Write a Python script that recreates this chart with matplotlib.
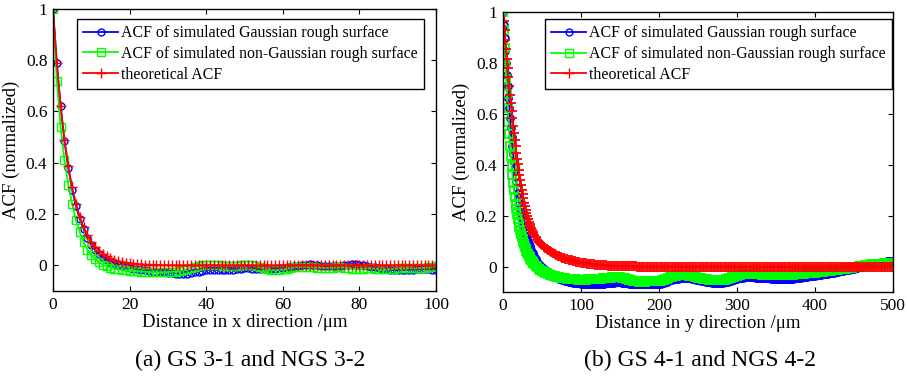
import numpy as np
import matplotlib
matplotlib.use("Agg")
import matplotlib.pyplot as plt
from matplotlib.ticker import FormatStrFormatter

plt.rcParams['font.family'] = ['Liberation Serif', 'DejaVu Serif']

labels = ['ACF of simulated Gaussian rough surface',
          'ACF of simulated non-Gaussian rough surface',
          'theoretical ACF']
captions = ['(a) GS 3-1 and NGS 3-2', '(b) GS 4-1 and NGS 4-2']
xlabels = ['Distance in x direction /\u03bcm', 'Distance in y direction /\u03bcm']

# (a) x direction, sampled every 1 um
x_a = np.arange(0, 101, 1)
gauss_a = [1.000, .790, .620, .485, .380, .295, .230, .180, .140, .105,
           .080, .060, .045, .032, .022, .014, .008, .003, -.002, -.006,
           -.010, -.013, -.016, -.018, -.020, -.022, -.024, -.025, -.026, -.027,
           -.028, -.030, -.032, -.033, -.033, -.032, -.030, -.027, -.024, -.021,
           -.019, -.018, -.018, -.019, -.020, -.020, -.019, -.017, -.015, -.013,
           -.012, -.012, -.013, -.014, -.015, -.016, -.016, -.015, -.013, -.011,
           -.009, -.007, -.005, -.003, -.001, .001, .003, .004, .003, .001,
           -.001, -.003, -.004, -.004, -.003, -.001, .001, .003, .004, .004,
           .003, .001, -.002, -.005, -.008, -.011, -.014, -.016, -.018, -.019,
           -.020, -.020, -.019, -.018, -.017, -.016, -.015, -.015, -.016, -.017,
           -.018]
nongauss_a = [1.000, .720, .540, .410, .315, .240, .175, .130, .090, .060,
              .040, .025, .012, .003, -.004, -.009, -.013, -.016, -.018, -.020,
              -.021, -.022, -.023, -.024, -.025, -.026, -.026, -.027, -.027, -.027,
              -.026, -.025, -.024, -.022, -.019, -.015, -.010, -.005, -.001, .002,
              .003, .003, .002, .000, -.002, -.003, -.003, -.002, -.001, .000,
              .001, .001, .000, -.003, -.007, -.011, -.015, -.018, -.019, -.018,
              -.016, -.013, -.010, -.008, -.007, -.006, -.006, -.007, -.008, -.009,
              -.010, -.010, -.010, -.009, -.008, -.008, -.009, -.011, -.013, -.014,
              -.014, -.013, -.012, -.012, -.013, -.015, -.016, -.016, -.015, -.013,
              -.011, -.010, -.010, -.011, -.012, -.012, -.011, -.009, -.007, -.005,
              -.004]
theory_a = [1.000, .788, .621, .490, .386, .304, .240, .189, .149, .117,
            .092, .073, .057, .045, .036, .028, .022, .017, .014, .011,
            .009, .007, .005, .004, .003, .003, .002, .002, .001, .001,
            .001, 0, 0, 0, 0, 0, 0, 0, 0, 0,
            0, 0, 0, 0, 0, 0, 0, 0, 0, 0,
            0, 0, 0, 0, 0, 0, 0, 0, 0, 0,
            0, 0, 0, 0, 0, 0, 0, 0, 0, 0,
            0, 0, 0, 0, 0, 0, 0, 0, 0, 0,
            0, 0, 0, 0, 0, 0, 0, 0, 0, 0,
            0, 0, 0, 0, 0, 0, 0, 0, 0, 0,
            0]

# (b) y direction: every 1 um up to 40, then every 2 um
x_b = np.concatenate([np.arange(0, 41, 1), np.arange(42, 501, 2)])
gauss_b = [1.000, .950, .900, .850, .800, .755, .710, .665, .625, .585,
           .545, .510, .475, .443, .413, .385, .358, .333, .310, .288,
           .268, .249, .231, .214, .198, .183, .169, .156, .143, .131,
           .120, .110, .100, .091, .082, .074, .066, .059, .052, .046,
           .040,
           .029, .019, .011, .004, -.003, -.009, -.014, -.019, -.024, -.028,
           -.032, -.036, -.039, -.042, -.045, -.047, -.050, -.052, -.054, -.056,
           -.058, -.059, -.061, -.062, -.063, -.064, -.065, -.066, -.066, -.067,
           -.067, -.068, -.068, -.068, -.069, -.069, -.069, -.069, -.069, -.069,
           -.069, -.068, -.068, -.067, -.067, -.066, -.065, -.065, -.064, -.063,
           -.063, -.062, -.062, -.062, -.062, -.063, -.063, -.064, -.065, -.066,
           -.067, -.068, -.068, -.069, -.069, -.070, -.070, -.070, -.070, -.070,
           -.070, -.070, -.070, -.070, -.070, -.070, -.070, -.070, -.070, -.069,
           -.068, -.066, -.064, -.061, -.059, -.056, -.054, -.052, -.050, -.049,
           -.048, -.047, -.046, -.045, -.044, -.044, -.044, -.044, -.045, -.046,
           -.047, -.048, -.049, -.051, -.052, -.053, -.055, -.056, -.057, -.059,
           -.060, -.061, -.062, -.063, -.064, -.064, -.065, -.065, -.065, -.064,
           -.063, -.062, -.061, -.059, -.057, -.055, -.053, -.051, -.049, -.047,
           -.046, -.045, -.044, -.043, -.042, -.042, -.042, -.042, -.042, -.042,
           -.042, -.043, -.043, -.044, -.044, -.044, -.045, -.045, -.046, -.046,
           -.046, -.047, -.047, -.048, -.048, -.048, -.049, -.049, -.049, -.049,
           -.049, -.049, -.049, -.048, -.048, -.047, -.046, -.046, -.045, -.044,
           -.043, -.042, -.042, -.041, -.040, -.039, -.038, -.038, -.037, -.036,
           -.035, -.034, -.033, -.032, -.031, -.030, -.029, -.028, -.027, -.026,
           -.025, -.024, -.022, -.021, -.020, -.019, -.017, -.016, -.015, -.014,
           -.013, -.012, -.010, -.009, -.008, -.006, -.005, -.003, -.002, .000,
           .002, .003, .005, .006, .008, .010, .011, .013, .014, .015,
           .016, .017, .018, .019, .020, .021, .021, .022, .022, .023]
nongauss_b = [1.000, .930, .860, .800, .740, .680, .625, .570, .520, .475,
              .435, .397, .362, .330, .300, .272, .248, .226, .206, .188,
              .172, .157, .143, .130, .118, .107, .097, .087, .078, .070,
              .062, .055, .048, .042, .036, .031, .026, .021, .017, .013,
              .009,
              .003, -.003, -.008, -.013, -.017, -.021, -.024, -.027, -.030, -.032,
              -.034, -.036, -.038, -.040, -.041, -.042, -.043, -.044, -.045, -.046,
              -.047, -.048, -.048, -.049, -.049, -.050, -.050, -.051, -.051, -.051,
              -.051, -.051, -.051, -.050, -.050, -.050, -.049, -.049, -.048, -.048,
              -.048, -.047, -.047, -.046, -.046, -.045, -.045, -.044, -.043, -.042,
              -.042, -.041, -.041, -.041, -.042, -.043, -.044, -.046, -.048, -.050,
              -.052, -.054, -.056, -.057, -.058, -.058, -.059, -.059, -.059, -.059,
              -.059, -.058, -.058, -.058, -.058, -.058, -.058, -.058, -.058, -.057,
              -.056, -.054, -.052, -.049, -.047, -.045, -.042, -.040, -.038, -.037,
              -.036, -.035, -.035, -.034, -.034, -.034, -.035, -.035, -.036, -.037,
              -.038, -.039, -.041, -.042, -.043, -.045, -.046, -.047, -.048, -.049,
              -.050, -.051, -.052, -.052, -.053, -.053, -.054, -.054, -.054, -.053,
              -.052, -.051, -.049, -.048, -.046, -.044, -.042, -.040, -.038, -.036,
              -.034, -.033, -.031, -.030, -.030, -.029, -.029, -.029, -.029, -.029,
              -.030, -.030, -.031, -.031, -.031, -.032, -.032, -.033, -.033, -.033,
              -.034, -.034, -.034, -.035, -.035, -.035, -.035, -.035, -.035, -.035,
              -.035, -.034, -.034, -.033, -.033, -.032, -.031, -.031, -.030, -.030,
              -.029, -.028, -.028, -.027, -.027, -.026, -.025, -.025, -.024, -.024,
              -.023, -.022, -.021, -.021, -.020, -.019, -.018, -.017, -.017, -.016,
              -.015, -.014, -.013, -.013, -.012, -.011, -.010, -.009, -.009, -.008,
              -.007, -.006, -.005, -.004, -.003, -.002, -.001, .001, .002, .003,
              .004, .005, .006, .007, .008, .009, .009, .010, .010, .011,
              .011, .012, .012, .012, .013, .013, .014, .014, .014, .015]
theory_b = [1.000, .965, .930, .893, .856, .818, .782, .746, .711, .677,
            .644, .613, .583, .554, .526, .500, .474, .449, .425, .402,
            .380, .359, .339, .320, .302, .285, .268, .252, .237, .223,
            .210, .198, .187, .177, .168, .160, .152, .145, .138, .132,
            .126,
            .115, .106, .098, .091, .085, .079, .074, .069, .064, .060,
            .056, .052, .049, .046, .043, .040, .038, .035, .033, .031,
            .029, .027, .025, .024, .022, .021, .019, .018, .017, .016,
            .015, .014, .013, .012, .011, .010, .010, .009, .008, .007,
            .007, .006, .006, .005, .005, .005, .004, .004, .003, .003,
            .003, .002, .002, .002, .002, .001, .001, .001, .001, .001,
            .001, .001, .001, .001, .001, 0, 0, 0, 0, 0,
            0, 0, 0, 0, 0, 0, 0, 0, 0, 0,
            0, 0, 0, 0, 0, 0, 0, 0, 0, 0,
            0, 0, 0, 0, 0, 0, 0, 0, 0, 0,
            0, 0, 0, 0, 0, 0, 0, 0, 0, 0,
            0, 0, 0, 0, 0, 0, 0, 0, 0, 0,
            0, 0, 0, 0, 0, 0, 0, 0, 0, 0,
            0, 0, 0, 0, 0, 0, 0, 0, 0, 0,
            0, 0, 0, 0, 0, 0, 0, 0, 0, 0,
            0, 0, 0, 0, 0, 0, 0, 0, 0, 0,
            0, 0, 0, 0, 0, 0, 0, 0, 0, 0,
            0, 0, 0, 0, 0, 0, 0, 0, 0, 0,
            0, 0, 0, 0, 0, 0, 0, 0, 0, 0,
            0, 0, 0, 0, 0, 0, 0, 0, 0, 0,
            0, 0, 0, 0, 0, 0, 0, 0, 0, 0,
            0, 0, 0, 0, 0, 0, 0, 0, 0, 0,
            0, 0, 0, 0, 0, 0, 0, 0, 0, 0]

panels = [
    dict(x=x_a, g=gauss_a, n=nongauss_a, t=theory_a, xmax=100, xticks=np.arange(0, 101, 20),
         rect=[0.0584, 0.2362, 0.4223, 0.7409], leg=(0.0627, 0.964), cap=(250 / 907, 1 - 360 / 381),
         mew=1.0, ms=5.3),
    dict(x=x_b, g=gauss_b, n=nongauss_b, t=theory_b, xmax=500, xticks=np.arange(0, 501, 100),
         rect=[0.5546, 0.2336, 0.4300, 0.7336], leg=(0.1075, 0.9767), cap=(700 / 907, 1 - 360 / 381),
         mew=1.3, ms=6.0),
]

fig = plt.figure(figsize=(9.07, 3.81), dpi=100)
for i, p in enumerate(panels):
    ax = fig.add_axes(p['rect'])
    l1, = ax.plot(p['x'], p['g'], '-o', color='blue', lw=1.3, ms=5, mfc='none', mew=p['mew'], label=labels[0])
    l2, = ax.plot(p['x'], p['n'], '-s', color='#00ff00', lw=1.3, ms=p['ms'], mfc='none', mew=p['mew'], label=labels[1])
    l3, = ax.plot(p['x'], p['t'], '-+', color='red', lw=1.3, ms=7.5, mew=p['mew'], label=labels[2])
    ax.set_xlim(0, p['xmax'])
    ax.set_ylim(-0.1, 1)
    ax.set_xticks(p['xticks'])
    ax.set_yticks([0, 0.2, 0.4, 0.6, 0.8, 1])
    ax.yaxis.set_major_formatter(FormatStrFormatter('%g'))
    ax.tick_params(direction='in', length=3.5, width=0.8, top=True, right=True,
                   labelsize=12.5, pad=4)
    for s in ax.spines.values():
        s.set_linewidth(1.0)
    ax.set_xlabel(xlabels[i], fontsize=13.5, labelpad=1)
    ax.set_ylabel('ACF (normalized)', fontsize=13.5, labelpad=4)
    leg = ax.legend(loc='upper left', bbox_to_anchor=p['leg'], borderaxespad=0,
                    fontsize=11.4, handlelength=2.2, handletextpad=0.2,
                    labelspacing=0.3, borderpad=0.4, numpoints=1,
                    fancybox=False, framealpha=1, edgecolor='black')
    leg.get_frame().set_linewidth(1.0)
    for h in leg.legend_handles:
        h.set_markeredgewidth(1.0)
    fig.text(p['cap'][0], p['cap'][1], captions[i], ha='center', va='center', fontsize=17)

plt.savefig("out.png", dpi=100)
plt.close()
